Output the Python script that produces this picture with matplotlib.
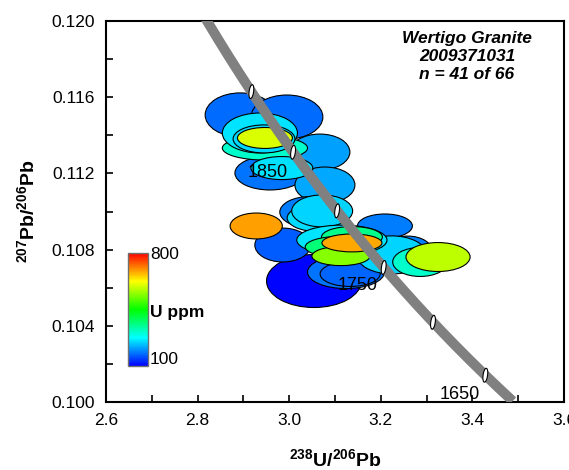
import numpy as np
import matplotlib
matplotlib.use('Agg')
import matplotlib.pyplot as plt
from matplotlib.patches import Ellipse
from matplotlib.colors import ListedColormap, Normalize, hsv_to_rgb
from matplotlib.cm import ScalarMappable
from matplotlib.transforms import ScaledTranslation

plt.rcParams['font.family'] = ['Liberation Sans', 'DejaVu Sans']
plt.rcParams['mathtext.fontset'] = 'custom'
plt.rcParams['mathtext.rm'] = 'Liberation Sans'
plt.rcParams['mathtext.bf'] = 'Liberation Sans:bold'
plt.rcParams['mathtext.it'] = 'Liberation Sans:italic'

# ---- data: error ellipses (back to front) ----
ell_x = [2.893, 2.995, 2.958, 3.067, 3.078, 2.947, 2.936, 2.984, 2.945, 2.947,
         3.054, 2.986, 2.928, 3.045, 3.061, 3.072, 3.124, 3.133, 3.209, 3.259,
         3.224, 3.115, 3.286, 3.137, 3.109, 3.113, 3.137, 3.325]
ell_y = [0.11507, 0.11496, 0.11202, 0.11312, 0.11139, 0.11333, 0.11412, 0.11228, 0.11381, 0.11386,
         0.10635, 0.10824, 0.10924, 0.10997, 0.10966, 0.11003, 0.10682, 0.10672, 0.10924, 0.10787,
         0.10772, 0.10850, 0.10735, 0.10866, 0.10814, 0.10766, 0.10835, 0.10761]
ell_w = [0.153, 0.157, 0.153, 0.131, 0.131, 0.186, 0.164, 0.135, 0.135, 0.120,
         0.207, 0.122, 0.114, 0.131, 0.131, 0.133, 0.168, 0.131, 0.120, 0.109,
         0.153, 0.197, 0.120, 0.133, 0.148, 0.127, 0.131, 0.140]
ell_h = [0.00231, 0.00231, 0.00178, 0.00189, 0.00189, 0.00126, 0.00210, 0.00121, 0.00147, 0.00110,
         0.00278, 0.00178, 0.00136, 0.00163, 0.00142, 0.00168, 0.00173, 0.00131, 0.00126, 0.00168,
         0.00200, 0.00157, 0.00152, 0.00110, 0.00110, 0.00100, 0.00094, 0.00152]
ell_u = [175, 175, 180, 210, 215, 313, 258, 255, 250, 600,
         105, 165, 690, 185, 252, 245, 180, 170, 185, 190,
         245, 258, 313, 357, 370, 541, 685, 581]

# concordia
conc_range = [1625, 2000]
marker_ages = [1650, 1700, 1750, 1800, 1850, 1900]
label_ages = ['1650', '1750', '1850']
label_x = [3.373, 3.150, 2.954]
label_y = [0.10037, 0.10609, 0.11207]

u_min, u_max = 100, 800
xticks = [2.6, 2.8, 3.0, 3.2, 3.4, 3.6]
yticks = [0.100, 0.104, 0.108, 0.112, 0.116, 0.120]

LAM238 = 1.55125e-10
LAM235 = 9.8485e-10
U_RATIO = 137.88


def concordia(t_ma):
    t = np.asarray(t_ma, dtype=float) * 1e6
    e8 = np.exp(LAM238 * t) - 1
    e5 = np.exp(LAM235 * t) - 1
    return 1.0 / e8, e5 / e8 / U_RATIO


# rainbow colormap blue -> red (HSV hue 240 -> 0)
tt = np.linspace(0, 1, 256)
hsv = np.stack([(2.0 / 3.0) * (1 - tt), np.ones_like(tt), np.ones_like(tt)], axis=1)
cmap = ListedColormap(hsv_to_rgb(hsv))
norm = Normalize(u_min, u_max)

fig = plt.figure(figsize=(5.69, 4.70), dpi=100)
ax = fig.add_axes([106 / 569, 68 / 470, 458 / 569, 381 / 470])
ax.set_xlim(2.6, 3.6)
ax.set_ylim(0.100, 0.120)

for x, y, w, h, u in zip(ell_x, ell_y, ell_w, ell_h, ell_u):
    ax.add_patch(Ellipse((x, y), w, h, facecolor=cmap(norm(u)), edgecolor='black',
                         linewidth=0.8, zorder=2))

tline = np.linspace(conc_range[0], conc_range[1], 200)
cx, cy = concordia(tline)
ax.plot(cx, cy, color='#808080', linewidth=7.2, solid_capstyle='butt', zorder=3)

mx, my = concordia(marker_ages)
for x, y in zip(mx, my):
    tr = fig.dpi_scale_trans + ScaledTranslation(x, y, ax.transData)
    ax.add_patch(Ellipse((0, 0), 0.045, 0.14, angle=-8, facecolor='white',
                         edgecolor='black', linewidth=0.8, zorder=4, transform=tr))

for s, x, y in zip(label_ages, label_x, label_y):
    ax.text(x, y, s, fontsize=13, ha='center', va='center', zorder=5)

ax.text(3.388, 0.1195, 'Wertigo Granite\n2009371031\nn = 41 of 66', ha='center', va='top',
        fontsize=12.5, fontweight='bold', fontstyle='italic', linespacing=1.25, zorder=6)

ax.set_xticks(xticks)
ax.set_xticklabels([f'{v:.1f}' for v in xticks])
ax.set_xticks(np.arange(2.6, 3.61, 0.1), minor=True)
ax.set_yticks(yticks)
ax.set_yticklabels([f'{v:.3f}' for v in yticks])
ax.set_yticks(np.arange(0.100, 0.1201, 0.002), minor=True)
ax.tick_params(which='both', direction='in', top=False, right=False, labelsize=12.5, width=1.2)
ax.tick_params(which='major', length=5, pad=8)
ax.tick_params(which='minor', length=5)
for sp in ax.spines.values():
    sp.set_linewidth(1.5)

fig.text(335 / 569, 1 - 459 / 470, r'$\mathbf{{}^{238}U/{}^{206}Pb}$', ha='center', va='center',
         fontsize=14)
fig.text(27 / 569, 1 - 211.5 / 470, r'$\mathbf{{}^{207}Pb/{}^{206}Pb}$', ha='center', va='center',
         fontsize=14, rotation=90)

cax = fig.add_axes([128 / 569, 1 - 366 / 470, 20 / 569, 113 / 470])
cb = fig.colorbar(ScalarMappable(norm=norm, cmap=cmap), cax=cax)
cb.set_ticks([])
cb.outline.set_edgecolor('#707070')
cb.outline.set_linewidth(1.0)
fig.text(150 / 569, 1 - 254.5 / 470, '800', ha='left', va='center', fontsize=12.5)
fig.text(150 / 569, 1 - 312 / 470, 'U ppm', ha='left', va='center', fontsize=12.5, fontweight='bold')
fig.text(150 / 569, 1 - 359.5 / 470, '100', ha='left', va='center', fontsize=12.5)

fig.savefig('out.png', dpi=100)
